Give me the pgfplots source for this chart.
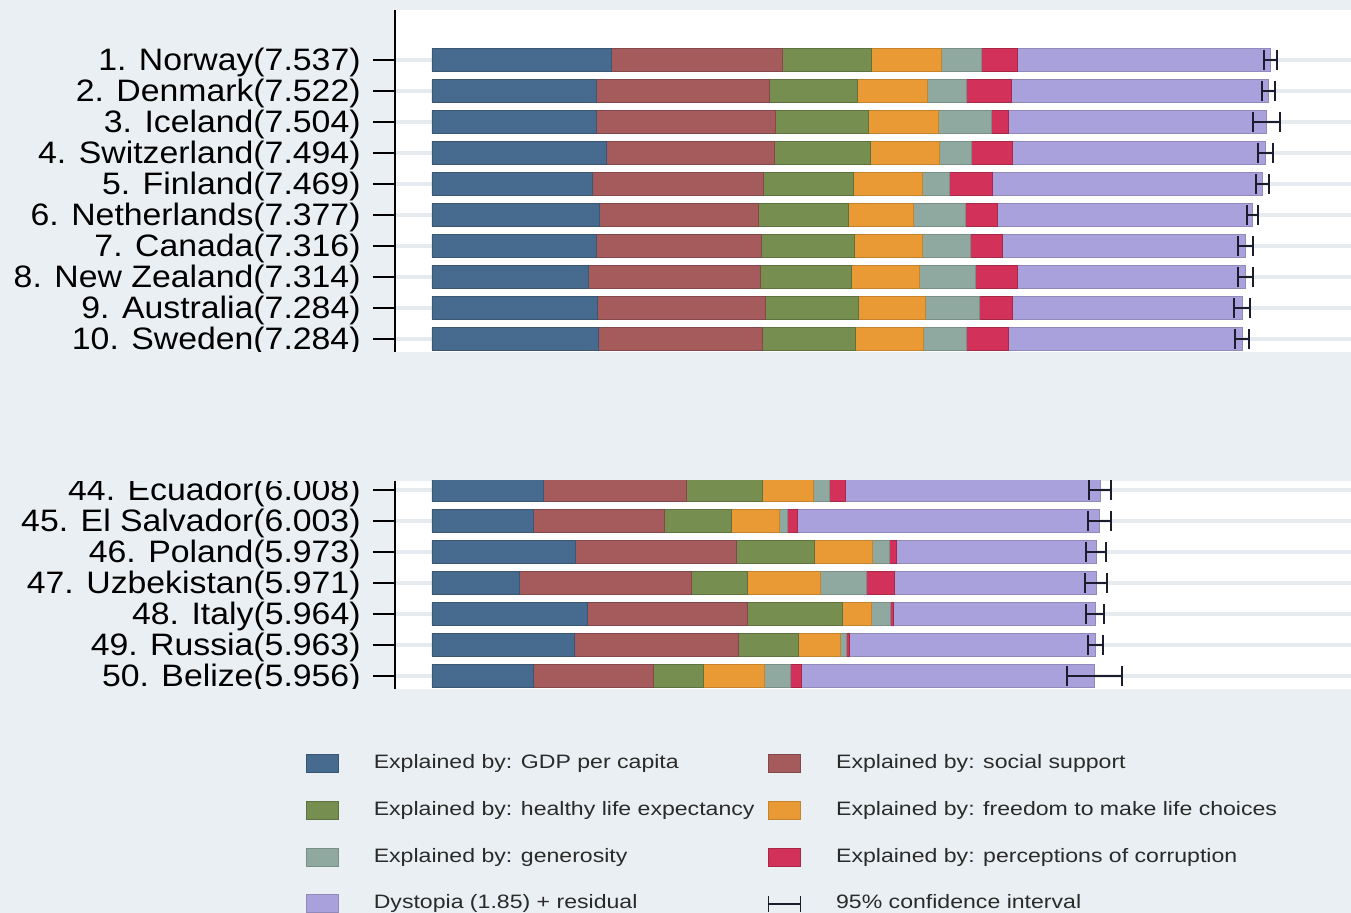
\documentclass[border=0pt]{standalone}
\usepackage{pgfplots}
\pgfplotsset{compat=1.18}
\usepackage{pgfplotstable}
\usepackage{fontspec}
\setmainfont{Liberation Sans}
\newfontfamily\stfont{Liberation Sans}[FakeStretch=1.09]
\newfontfamily\lgfont{Liberation Sans}[FakeStretch=1.19]
\newcommand\lblfont{\stfont\fontsize{15.5}{15.5}\selectfont}
\newcommand\legfont{\lgfont\fontsize{9.7}{11}\selectfont}

\definecolor{bgc}{HTML}{E9EFF2}
\definecolor{gridc}{HTML}{E5EBEE}
\definecolor{cGDP}{HTML}{476B8E}
\definecolor{cSoc}{HTML}{A55A5C}
\definecolor{cHea}{HTML}{768F50}
\definecolor{cFre}{HTML}{E99A35}
\definecolor{cGen}{HTML}{8FA8A0}
\definecolor{cCor}{HTML}{D2325A}
\definecolor{cDys}{HTML}{A9A1DB}
\definecolor{ciC}{HTML}{1C1C2C}
\definecolor{legtext}{HTML}{2A2A2A}

\pgfplotstableread{
y gdp soc hea fre gen cor dys
10 1.616 1.534 0.797 0.635 0.362 0.316 2.277
9 1.482 1.551 0.793 0.626 0.355 0.401 2.314
8 1.481 1.611 0.834 0.627 0.476 0.154 2.321
7 1.565 1.517 0.858 0.620 0.291 0.367 2.276
6 1.444 1.540 0.809 0.618 0.245 0.383 2.430
5 1.504 1.429 0.811 0.585 0.470 0.283 2.295
4 1.479 1.481 0.835 0.611 0.436 0.287 2.187
3 1.406 1.548 0.817 0.614 0.500 0.383 2.046
2 1.484 1.510 0.844 0.602 0.478 0.301 2.065
1 1.494 1.478 0.831 0.613 0.385 0.384 2.099
}\toptab

\pgfplotstableread{
y gdp soc hea fre gen cor dys
7 1.001 1.286 0.686 0.455 0.150 0.140 2.290
6 0.910 1.182 0.596 0.432 0.078 0.090 2.715
5 1.292 1.446 0.699 0.520 0.158 0.065 1.793
4 0.786 1.549 0.498 0.658 0.416 0.247 1.817
3 1.395 1.445 0.853 0.256 0.173 0.028 1.814
2 1.282 1.469 0.547 0.374 0.052 0.033 2.206
1 0.908 1.081 0.450 0.548 0.240 0.097 2.632
}\bottab

\pgfplotstableread{
x y
7.479 10
7.594 10
nan nan
7.462 9
7.582 9
nan nan
7.386 8
7.622 8
nan nan
7.426 7
7.562 7
nan nan
7.410 6
7.528 6
nan nan
7.327 5
7.427 5
nan nan
7.248 4
7.384 4
nan nan
7.248 3
7.380 3
nan nan
7.211 2
7.357 2
nan nan
7.224 1
7.344 1
}\topci

\pgfplotstableread{
x y
5.909 7
6.107 7
nan nan
5.896 6
6.110 6
nan nan
5.883 5
6.063 5
nan nan
5.873 4
6.069 4
nan nan
5.881 3
6.047 3
nan nan
5.896 2
6.030 2
nan nan
5.707 1
6.205 1
}\botci

\pgfplotsset{
  panel/.style={scale only axis, width=478pt, xmin=-0.3327, xmax=8.264,
    anchor=south west, xbar stacked, bar width=11.25pt,
    axis y line*=left, axis x line=none,
    axis background/.style={fill=white},
    ymajorgrids, major grid style={line width=2pt, gridc},
    tick align=outside, major tick length=11pt,
    ytick style={line width=1pt, black},
    axis line style={line width=1.2pt, black, -},
    yticklabel style={font=\lblfont, inner sep=0pt, xshift=-6pt, yshift=-1.25pt, text=black},
    xtick=\empty},
  ciax/.style={scale only axis, width=478pt, xmin=-0.3327, xmax=8.264,
    anchor=south west, hide axis},
  ciplot/.style={ciC, line width=1pt, mark=|, mark size=4.9pt,
    mark options={solid, line width=1pt}, unbounded coords=jump},
  sw/.style={legend image code/.code={\draw[##1, line width=0.4pt] (0pt,-4.5pt) rectangle (16pt,4.5pt);}},
}

\begin{document}
\begin{tikzpicture}
\fill[bgc] (0,0) rectangle (675.5pt,456.5pt);
\useasboundingbox (0,0) rectangle (675.5pt,456.5pt);

% top panel
\begin{axis}[panel, at={(197.5pt,280.25pt)}, height=171.25pt,
  ymin=0.565, ymax=11.613, ytick={1,...,10},
  yticklabels={{10. Sweden(7.284)},{9. Australia(7.284)},{8. New Zealand(7.314)},{7. Canada(7.316)},{6. Netherlands(7.377)},{5. Finland(7.469)},{4. Switzerland(7.494)},{3. Iceland(7.504)},{2. Denmark(7.522)},{1. Norway(7.537)}}]
\addplot[fill=cGDP, draw=cGDP!80!black, line width=0.4pt] table[x=gdp,y=y]{\toptab};
\addplot[fill=cSoc, draw=cSoc!80!black, line width=0.4pt] table[x=soc,y=y]{\toptab};
\addplot[fill=cHea, draw=cHea!80!black, line width=0.4pt] table[x=hea,y=y]{\toptab};
\addplot[fill=cFre, draw=cFre!85!black, line width=0.4pt] table[x=fre,y=y]{\toptab};
\addplot[fill=cGen, draw=cGen!85!black, line width=0.4pt] table[x=gen,y=y]{\toptab};
\addplot[fill=cCor, draw=cCor!80!black, line width=0.4pt] table[x=cor,y=y]{\toptab};
\addplot[fill=cDys, draw=cDys!85!black, line width=0.4pt] table[x=dys,y=y]{\toptab};
\end{axis}
\begin{axis}[ciax, at={(197.5pt,280.25pt)}, height=171.25pt, ymin=0.565, ymax=11.613]
\addplot[ciplot] table[x=x,y=y]{\topci};
\end{axis}

% bottom panel
\begin{axis}[panel, at={(197.5pt,112pt)}, height=104pt,
  ymin=0.581, ymax=7.290, ytick={1,...,7},
  yticklabels={{50. Belize(5.956)},{49. Russia(5.963)},{48. Italy(5.964)},{47. Uzbekistan(5.971)},{46. Poland(5.973)},{45. El Salvador(6.003)},{44. Ecuador(6.008)}},
  legend columns=2, legend cell align=left,
  legend style={at={(-0.0931,-0.3124)}, anchor=north west, draw=none, fill=none,
    inner sep=0pt, outer sep=0pt, font=\legfont, text=legtext, row sep=14pt,
    /tikz/every odd column/.append style={column sep=17.5pt},
    /tikz/every even column/.append style={column sep=6.5pt},
    nodes={inner sep=0pt, text height=7.2pt, text depth=2pt}}]
\addplot[fill=cGDP, draw=cGDP!80!black, line width=0.4pt, sw] table[x=gdp,y=y]{\bottab};
\addplot[fill=cSoc, draw=cSoc!80!black, line width=0.4pt, sw] table[x=soc,y=y]{\bottab};
\addplot[fill=cHea, draw=cHea!80!black, line width=0.4pt, sw] table[x=hea,y=y]{\bottab};
\addplot[fill=cFre, draw=cFre!85!black, line width=0.4pt, sw] table[x=fre,y=y]{\bottab};
\addplot[fill=cGen, draw=cGen!85!black, line width=0.4pt, sw] table[x=gen,y=y]{\bottab};
\addplot[fill=cCor, draw=cCor!80!black, line width=0.4pt, sw] table[x=cor,y=y]{\bottab};
\addplot[fill=cDys, draw=cDys!85!black, line width=0.4pt, sw] table[x=dys,y=y]{\bottab};
\addlegendimage{legend image code/.code={\draw[ciC, line width=0.8pt] (0pt,0pt)--(16pt,0pt) (0pt,-4pt)--(0pt,4pt) (16pt,-4pt)--(16pt,4pt);}}
\legend{Explained by: GDP per capita, Explained by: social support, Explained by: healthy life expectancy, Explained by: freedom to make life choices, Explained by: generosity, Explained by: perceptions of corruption, Dystopia (1.85) + residual, 95\% confidence interval}
\end{axis}
\begin{axis}[ciax, at={(197.5pt,112pt)}, height=104pt, ymin=0.581, ymax=7.290]
\addplot[ciplot] table[x=x,y=y]{\botci};
\end{axis}

% clip tick labels at the plot regions, as in the reference
\fill[bgc] (0,216.1pt) rectangle (196.8pt,280.3pt);
\fill[bgc] (0,86pt) rectangle (196.8pt,111.9pt);
\end{tikzpicture}
\end{document}
